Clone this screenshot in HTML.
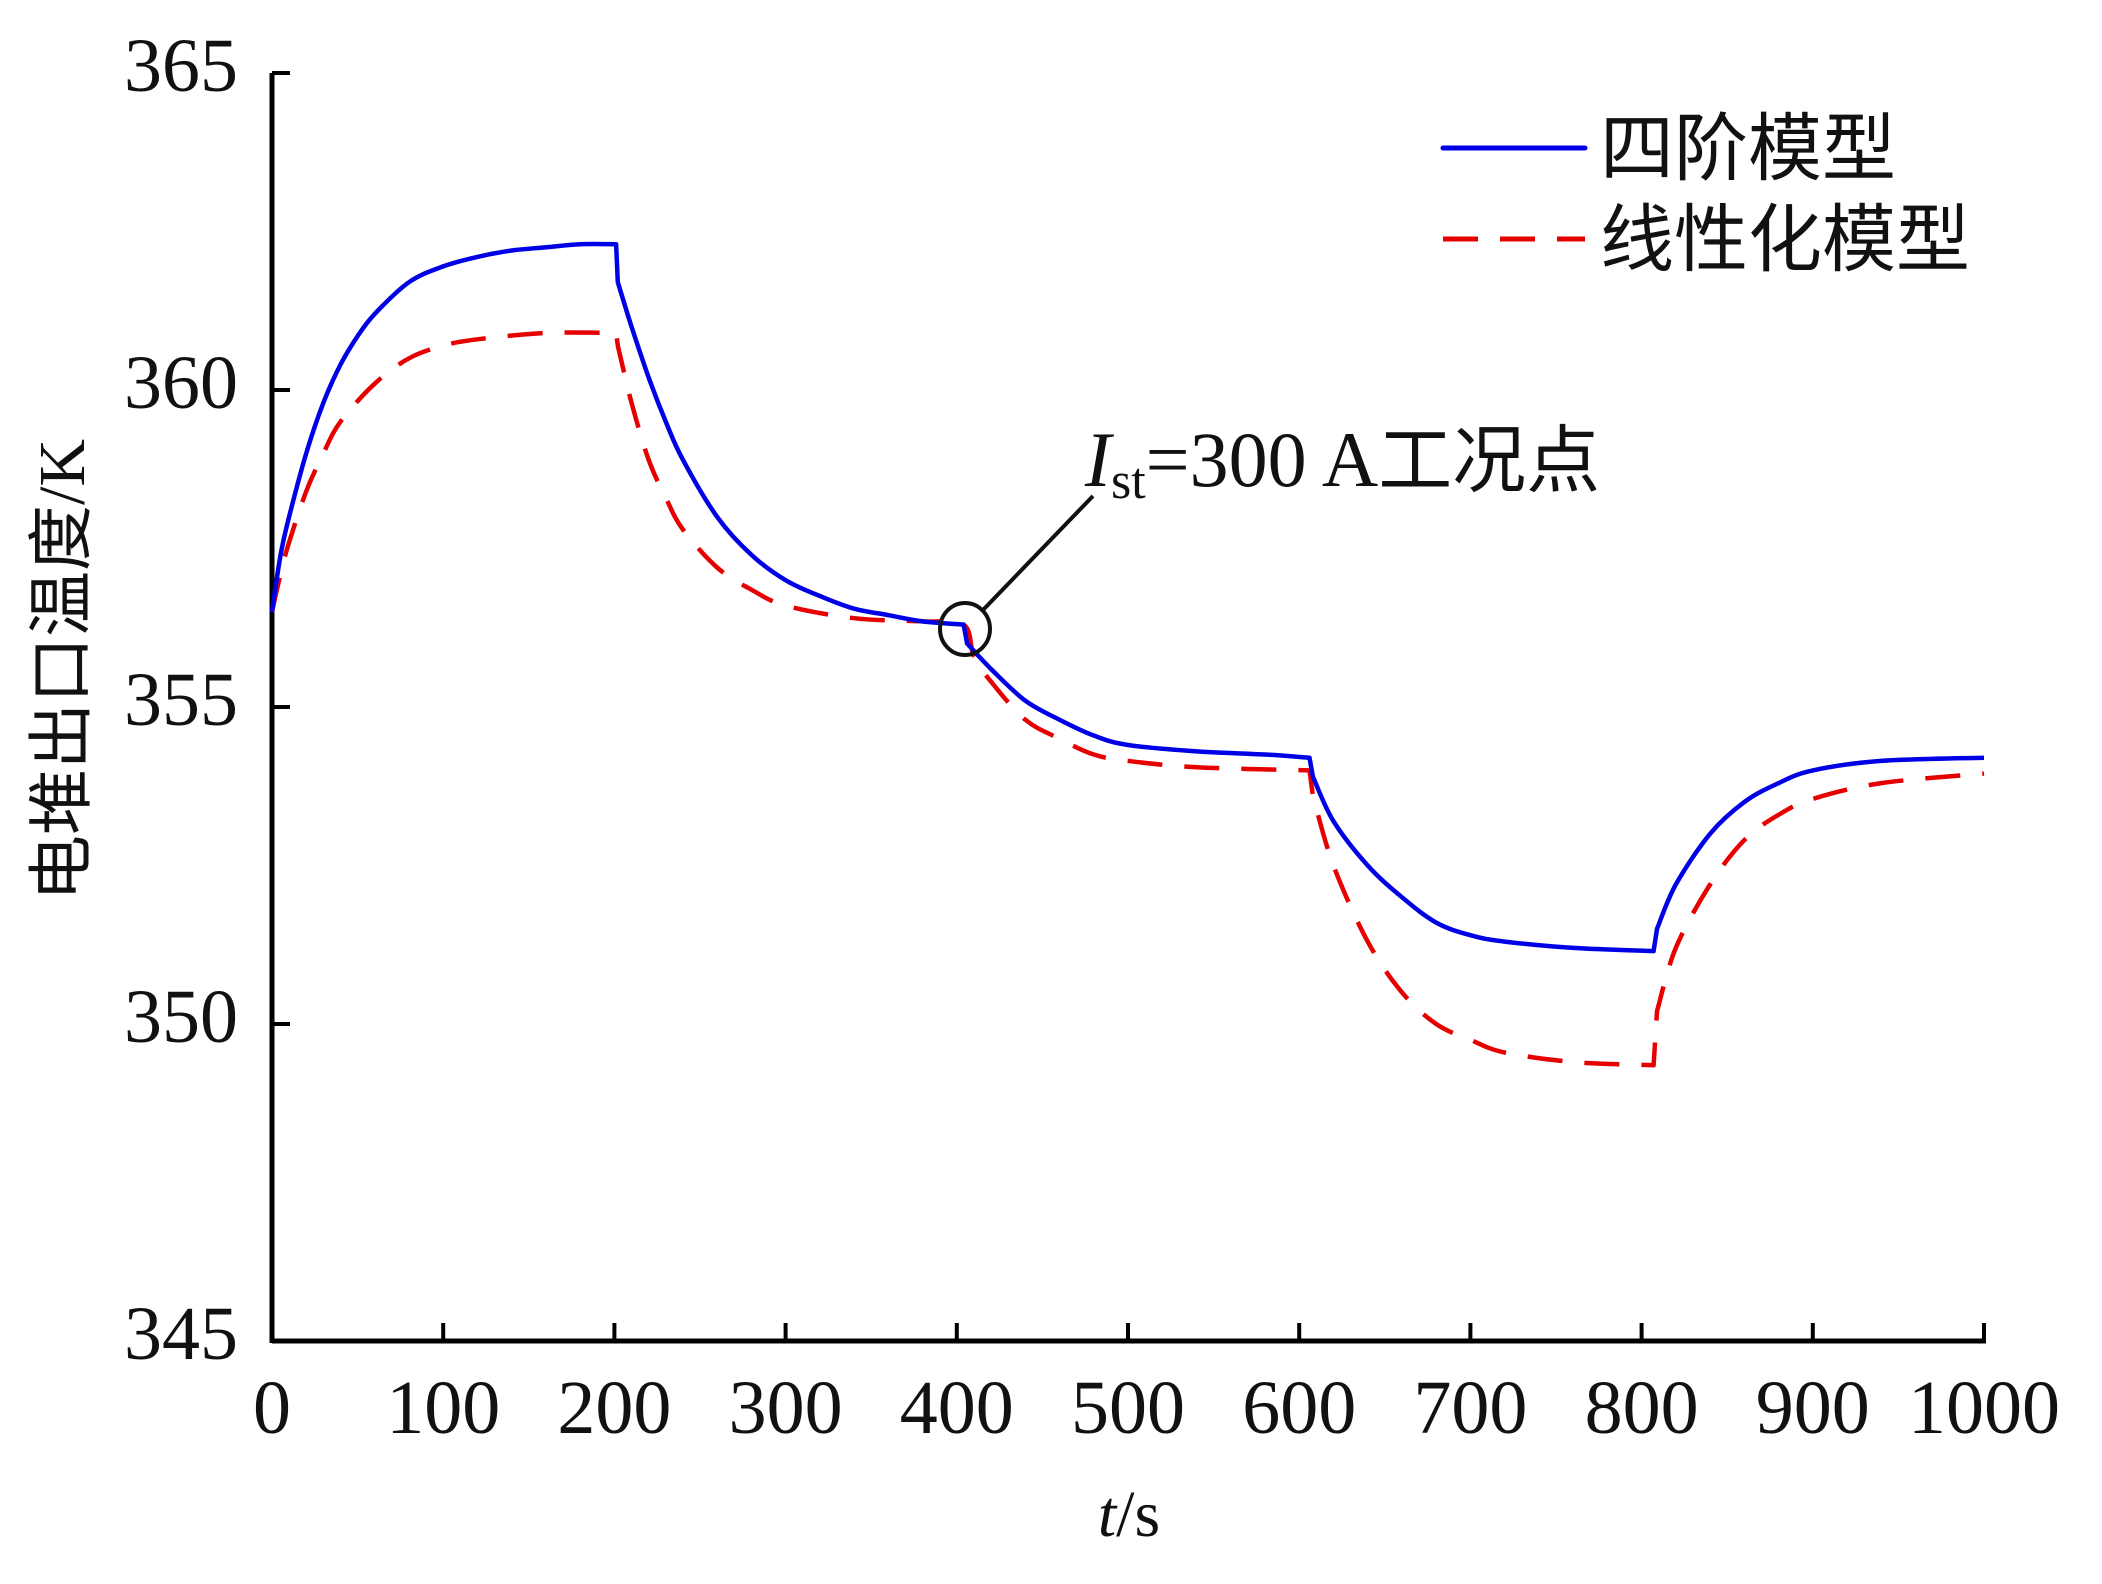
<!DOCTYPE html>
<html><head><meta charset="utf-8"><style>
html,body{margin:0;padding:0;background:#fff;}
svg{display:block;}
text{font-family:"Liberation Serif","Noto Serif CJK SC",serif;fill:#111;}
.cjk{font-family:"Liberation Serif","Noto Sans CJK SC",sans-serif;}
</style></head><body>
<svg id="chart" width="2102" height="1584" viewBox="0 0 2102 1584" xmlns="http://www.w3.org/2000/svg">
<g id="axes"></g>
<g id="series"></g>
<text class="cjk" x="0" y="0" font-size="66" text-anchor="middle" transform="translate(84,670) rotate(-90)">电堆出口温度/K</text>
<text x="1129" y="1536" font-size="66" text-anchor="middle"><tspan font-style="italic">t</tspan>/s</text>
<g>
<line x1="1443" y1="148" x2="1585" y2="148" stroke="#0000e6" stroke-width="5" stroke-linecap="round"/>
<text class="cjk" x="1600" y="174" font-size="74">四阶模型</text>
<line x1="1443" y1="239" x2="1585" y2="239" stroke="#e60000" stroke-width="5" stroke-dasharray="35,22"/>
<text class="cjk" x="1600" y="265" font-size="74">线性化模型</text>
</g>
<g>
<ellipse cx="965" cy="629" rx="25" ry="26" fill="none" stroke="#111" stroke-width="4"/>
<line x1="983" y1="610" x2="1093" y2="496" stroke="#111" stroke-width="4"/>
<text x="1085" y="486" font-size="78"><tspan font-style="italic">I</tspan><tspan font-size="52" dy="12">st</tspan><tspan dy="-12">=300 A</tspan><tspan class="cjk" font-size="74">工况点</tspan></text>
</g>
</svg>
<script>
const xTicks = [0,100,200,300,400,500,600,700,800,900,1000];
const yTicks = [345,350,355,360,365];
const blueT = [0,5,10,20,30,40,50,60,80,100,120,140,160,180,201,202,210,220,230,240,260,280,300,320,340,360,380,404,406,420,440,460,480,500,540,580,606,608,620,640,660,680,700,720,760,807,809,820,840,860,880,900,940,1000];
const blueV = [356.5,357.4,358.0,359.0,359.8,360.4,360.85,361.2,361.7,361.95,362.1,362.2,362.25,362.3,362.3,361.7,361.0,360.2,359.5,358.9,358.0,357.4,357.0,356.75,356.55,356.45,356.35,356.3,356.0,355.6,355.1,354.8,354.55,354.4,354.3,354.25,354.2,353.9,353.2,352.5,352.0,351.6,351.4,351.3,351.2,351.15,351.5,352.2,353.0,353.5,353.8,354.0,354.15,354.2];
const redT = [0,5,10,20,30,40,60,80,100,120,160,201,202,210,220,230,240,260,280,300,340,380,404,410,420,440,460,480,500,540,606,608,620,640,660,680,700,720,760,807,809,820,840,860,880,900,940,1000];
const redV = [356.5,357.1,357.6,358.4,359.0,359.5,360.1,360.5,360.7,360.8,360.9,360.9,360.7,359.8,358.9,358.3,357.8,357.2,356.85,356.6,356.4,356.35,356.3,355.8,355.4,354.8,354.5,354.25,354.15,354.05,354.0,353.6,352.5,351.3,350.5,350.0,349.75,349.55,349.4,349.35,350.2,351.2,352.2,352.9,353.3,353.55,353.8,353.95];

const X0=272, X1=1984, Y0=1341, Y1=73;
function sx(t){return X0+(t-0)/(1000-0)*(X1-X0);}
function sy(v){return Y0-(v-345)/(365-345)*(Y0-Y1);}
const NS="http://www.w3.org/2000/svg";
const axes=document.getElementById('axes');
const series=document.getElementById('series');
function mk(tag,attrs,parent){const e=document.createElementNS(NS,tag);for(const k in attrs)e.setAttribute(k,attrs[k]);parent.appendChild(e);return e;}

xTicks.forEach(t=>{
  const tk=mk('line',{x1:sx(t),y1:Y0,x2:sx(t),y2:Y0-18,stroke:'#000','stroke-width':4},axes);
  
  
  const lb=mk('text',{x:sx(t),y:1433,'font-size':76,'text-anchor':'middle'},axes);
  lb.textContent=t;
  
  
});
yTicks.forEach(v=>{
  const tk=mk('line',{x1:X0,y1:sy(v),x2:X0+18,y2:sy(v),stroke:'#000','stroke-width':4},axes);
  
  
  const lb=mk('text',{x:238,y:sy(v)+18,'font-size':76,'text-anchor':'end'},axes);
  lb.textContent=v;
  
  
});
const xa=mk('line',{x1:X0,y1:Y0,x2:X1+2,y2:Y0,stroke:'#000','stroke-width':5},axes);


const ya=mk('line',{x1:X0,y1:Y0+2,x2:X0,y2:Y1,stroke:'#000','stroke-width':5},axes);



// Smooth within runs; straight line across step jumps (dt<=2)
function pathD(ts,vs){
  const P=ts.map((t,i)=>[sx(t),sy(vs[i])]);
  const runs=[];let cur=[0];
  for(let i=1;i<P.length;i++){
    if(ts[i]-ts[i-1]<=2){runs.push(cur);cur=[i];}else cur.push(i);
  }
  runs.push(cur);
  let d='M'+P[0][0].toFixed(1)+','+P[0][1].toFixed(1);
  runs.forEach((r,ri)=>{
    if(ri>0) d+=' L'+P[r[0]][0].toFixed(1)+','+P[r[0]][1].toFixed(1);
    for(let k=0;k<r.length-1;k++){
      const p0=P[r[Math.max(k-1,0)]],p1=P[r[k]],p2=P[r[k+1]],p3=P[r[Math.min(k+2,r.length-1)]];
      const c1=[p1[0]+(p2[0]-p0[0])/6,p1[1]+(p2[1]-p0[1])/6];
      const c2=[p2[0]-(p3[0]-p1[0])/6,p2[1]-(p3[1]-p1[1])/6];
      d+=' C'+c1[0].toFixed(1)+','+c1[1].toFixed(1)+' '+c2[0].toFixed(1)+','+c2[1].toFixed(1)+' '+p2[0].toFixed(1)+','+p2[1].toFixed(1);
    }
  });
  return d;
}
const red=mk('path',{d:pathD(redT,redV),fill:'none',stroke:'#e60000','stroke-width':4.5,'stroke-dasharray':'35,22','stroke-linejoin':'round'},series);


const blue=mk('path',{d:pathD(blueT,blueV),fill:'none',stroke:'#0000e6','stroke-width':4.5,'stroke-linejoin':'round'},series);


</script>
</body></html>
